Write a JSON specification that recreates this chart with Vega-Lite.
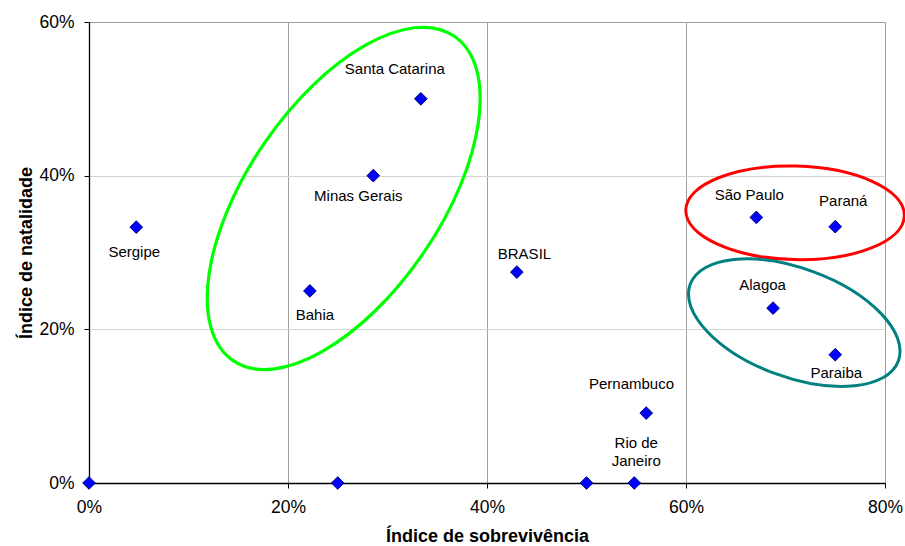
{
  "$schema": "https://vega.github.io/schema/vega-lite/v6.json",
  "width": 796,
  "height": 461,
  "autosize": {"type": "none"},
  "padding": {"left": 89, "top": 22, "right": 20, "bottom": 63},
  "background": "white",
  "config": {
    "font": "Liberation Sans",
    "view": {"stroke": "#a0a0a0", "strokeWidth": 1},
    "axis": {
      "labelFont": "Liberation Sans",
      "titleFont": "Liberation Sans",
      "labelFontSize": 17.5,
      "titleFontSize": 18,
      "titleFontWeight": "bold",
      "labelColor": "#000000",
      "titleColor": "#000000",
      "domainColor": "#000000",
      "domainWidth": 1.3,
      "tickColor": "#000000",
      "tickSize": 5,
      "labelPadding": 10
    }
  },
  "datasets": {
    "states": [
      {"name": "Sergipe", "label": "Sergipe", "sobrevivencia": 0.0475, "natalidade": 0.333},
      {"name": "Bahia", "label": "Bahia", "sobrevivencia": 0.222, "natalidade": 0.25},
      {"name": "Minas Gerais", "label": "Minas Gerais", "sobrevivencia": 0.2857, "natalidade": 0.40},
      {"name": "Santa Catarina", "label": "Santa Catarina", "sobrevivencia": 0.3335, "natalidade": 0.50},
      {"name": "BRASIL", "label": "BRASIL", "sobrevivencia": 0.43, "natalidade": 0.2745},
      {"name": "Pernambuco", "label": "Pernambuco", "sobrevivencia": 0.56, "natalidade": 0.091},
      {"name": "Rio de Janeiro", "label": "Rio de\nJaneiro", "sobrevivencia": 0.548, "natalidade": 0.0},
      {"name": "São Paulo", "label": "São Paulo", "sobrevivencia": 0.6707, "natalidade": 0.3457},
      {"name": "Paraná", "label": "Paraná", "sobrevivencia": 0.75, "natalidade": 0.3336},
      {"name": "Alagoa", "label": "Alagoa", "sobrevivencia": 0.6875, "natalidade": 0.2276},
      {"name": "Paraiba", "label": "Paraiba", "sobrevivencia": 0.75, "natalidade": 0.167},
      {"name": "A", "label": "", "sobrevivencia": 0.0, "natalidade": 0.0},
      {"name": "B", "label": "", "sobrevivencia": 0.25, "natalidade": 0.0},
      {"name": "C", "label": "", "sobrevivencia": 0.50, "natalidade": 0.0}
    ],
    "green": [{"sobrevivencia": 0.256, "natalidade": 0.3704}],
    "red": [{"sobrevivencia": 0.7096, "natalidade": 0.3516}],
    "teal": [{"sobrevivencia": 0.7088, "natalidade": 0.2087}]
  },
  "encoding": {
    "x": {
      "field": "sobrevivencia", "type": "quantitative",
      "scale": {"domain": [0, 0.8], "nice": false, "zero": false},
      "axis": {
        "title": "Índice de sobrevivência",
        "values": [0, 0.2, 0.4, 0.6, 0.8],
        "format": ".0%",
        "grid": true,
        "gridColor": "#a0a0a0",
        "gridWidth": 1,
        "titlePadding": 12,
        "labelFlush": false
      }
    },
    "y": {
      "field": "natalidade", "type": "quantitative",
      "scale": {"domain": [0, 0.6], "nice": false, "zero": false},
      "axis": {
        "title": "Índice de natalidade",
        "values": [0, 0.2, 0.4, 0.6],
        "format": ".0%",
        "grid": true,
        "gridColor": {"condition": {"test": "datum.value >= 0.59", "value": "#a0a0a0"}, "value": "#d4d4d4"},
        "gridWidth": 1,
        "titlePadding": 3,
        "labelFlush": false
      }
    }
  },
  "layer": [
    {
      "data": {"name": "states"},
      "mark": {"type": "point", "shape": "diamond", "filled": true, "size": 160, "fill": "#0000ff", "stroke": "#000080", "strokeWidth": 1, "opacity": 1, "clip": false}
    },
    {
      "data": {"name": "states"},
      "transform": [{"filter": "datum.name === 'Sergipe'"}],
      "mark": {"type": "text", "fontSize": 15, "align": "center", "baseline": "alphabetic", "dx": -2, "dy": 29.5, "color": "#000000"},
      "encoding": {"text": {"field": "label"}}
    },
    {
      "data": {"name": "states"},
      "transform": [{"filter": "datum.name === 'Bahia'"}],
      "mark": {"type": "text", "fontSize": 15, "align": "center", "baseline": "alphabetic", "dx": 5, "dy": 29.3, "color": "#000000"},
      "encoding": {"text": {"field": "label"}}
    },
    {
      "data": {"name": "states"},
      "transform": [{"filter": "datum.name === 'Minas Gerais'"}],
      "mark": {"type": "text", "fontSize": 15, "align": "center", "baseline": "alphabetic", "dx": -15, "dy": 25, "color": "#000000"},
      "encoding": {"text": {"field": "label"}}
    },
    {
      "data": {"name": "states"},
      "transform": [{"filter": "datum.name === 'Santa Catarina'"}],
      "mark": {"type": "text", "fontSize": 15, "align": "center", "baseline": "alphabetic", "dx": -26, "dy": -24.4, "color": "#000000"},
      "encoding": {"text": {"field": "label"}}
    },
    {
      "data": {"name": "states"},
      "transform": [{"filter": "datum.name === 'BRASIL'"}],
      "mark": {"type": "text", "fontSize": 15, "align": "center", "baseline": "alphabetic", "dx": 7.6, "dy": -13.4, "color": "#000000"},
      "encoding": {"text": {"field": "label"}}
    },
    {
      "data": {"name": "states"},
      "transform": [{"filter": "datum.name === 'Pernambuco'"}],
      "mark": {"type": "text", "fontSize": 15, "align": "center", "baseline": "alphabetic", "dx": -14.7, "dy": -24.4, "color": "#000000"},
      "encoding": {"text": {"field": "label"}}
    },
    {
      "data": {"name": "states"},
      "transform": [{"filter": "datum.name === 'Rio de Janeiro'"}],
      "mark": {"type": "text", "fontSize": 15, "align": "center", "baseline": "alphabetic", "lineBreak": "\n", "lineHeight": 18.7, "dx": 2, "dy": -35.2, "color": "#000000"},
      "encoding": {"text": {"field": "label"}}
    },
    {
      "data": {"name": "states"},
      "transform": [{"filter": "datum.name === 'São Paulo'"}],
      "mark": {"type": "text", "fontSize": 15, "align": "center", "baseline": "alphabetic", "dx": -7, "dy": -17, "color": "#000000"},
      "encoding": {"text": {"field": "label"}}
    },
    {
      "data": {"name": "states"},
      "transform": [{"filter": "datum.name === 'Paraná'"}],
      "mark": {"type": "text", "fontSize": 15, "align": "center", "baseline": "alphabetic", "dx": 8, "dy": -20.3, "color": "#000000"},
      "encoding": {"text": {"field": "label"}}
    },
    {
      "data": {"name": "states"},
      "transform": [{"filter": "datum.name === 'Alagoa'"}],
      "mark": {"type": "text", "fontSize": 15, "align": "center", "baseline": "alphabetic", "dx": -10.5, "dy": -18.4, "color": "#000000"},
      "encoding": {"text": {"field": "label"}}
    },
    {
      "data": {"name": "states"},
      "transform": [{"filter": "datum.name === 'Paraiba'"}],
      "mark": {"type": "text", "fontSize": 15, "align": "center", "baseline": "alphabetic", "dx": 1, "dy": 23.7, "color": "#000000"},
      "encoding": {"text": {"field": "label"}}
    },
    {
      "data": {"name": "green"},
      "mark": {"type": "point", "shape": "M 0.4926 0 C 0.4926 0.5523 0.2721 1 0 1 C -0.2721 1 -0.4926 0.5523 -0.4926 0 C -0.4926 -0.5523 -0.2721 -1 0 -1 C 0.2721 -1 0.4926 -0.5523 0.4926 0 Z", "size": 154135, "angle": 34.3, "filled": false, "stroke": "#00ff00", "strokeWidth": 3.2, "opacity": 1, "clip": false}
    },
    {
      "data": {"name": "red"},
      "mark": {"type": "point", "shape": "M 1 0 C 1 0.2364 0.5523 0.428 0 0.428 C -0.5523 0.428 -1 0.2364 -1 0 C -1 -0.2364 -0.5523 -0.428 0 -0.428 C 0.5523 -0.428 1 -0.2364 1 0 Z", "size": 47786, "angle": 1.5, "filled": false, "stroke": "#ff0000", "strokeWidth": 3, "opacity": 1, "clip": false}
    },
    {
      "data": {"name": "teal"},
      "mark": {"type": "point", "shape": "M 1 0 C 1 0.2709 0.5523 0.4905 0 0.4905 C -0.5523 0.4905 -1 0.2709 -1 0 C -1 -0.2709 -0.5523 -0.4905 0 -0.4905 C 0.5523 -0.4905 1 -0.2709 1 0 Z", "size": 49195, "angle": 20.2, "filled": false, "stroke": "#008080", "strokeWidth": 3, "opacity": 1, "clip": false}
    }
  ]
}
